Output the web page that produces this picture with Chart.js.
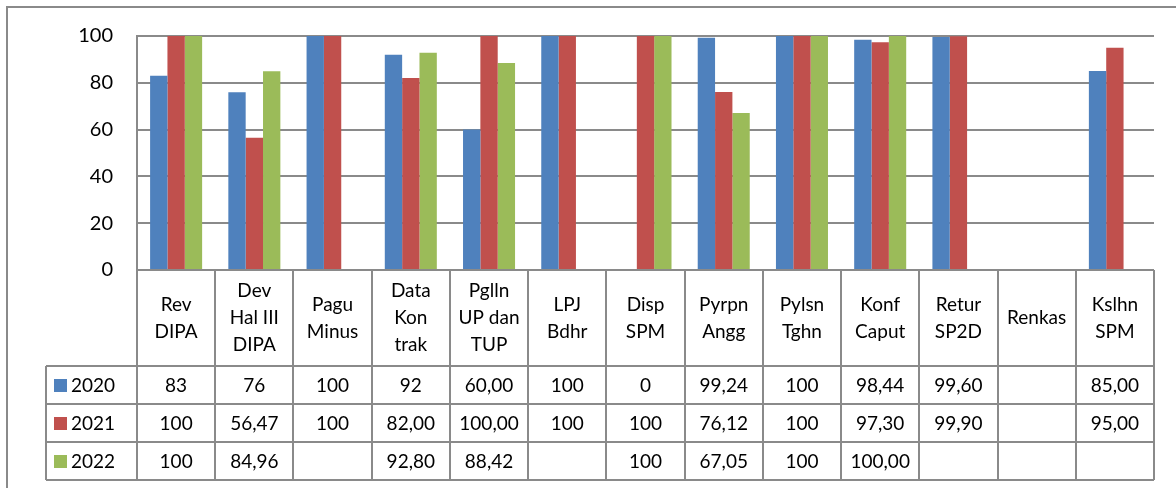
<!DOCTYPE html>
<html>
<head>
<meta charset="utf-8">
<script src="https://cdn.jsdelivr.net/npm/chart.js@4.4.1/dist/chart.umd.min.js"></script>
<style>
  html, body { margin: 0; padding: 0; background: #fff; }
  #wrap { width: 1176px; height: 488px; }
</style>
</head>
<body>
<div id="wrap"><canvas id="chart" width="1176" height="488"></canvas></div>
<script>
// categories (header lines as shown in the data table)
const categories = [
  ["Rev", "DIPA"], ["Dev", "Hal III", "DIPA"], ["Pagu", "Minus"], ["Data", "Kon", "trak"],
  ["Pglln", "UP dan", "TUP"], ["LPJ", "Bdhr"], ["Disp", "SPM"], ["Pyrpn", "Angg"],
  ["Pylsn", "Tghn"], ["Konf", "Caput"], ["Retur", "SP2D"], ["Renkas"], ["Kslhn", "SPM"]
];
const years = ["2020", "2021", "2022"];
const colors = ["#4F81BD", "#C0504D", "#9BBB59"];

const values2020 = [83, 76, 100, 92, 60, 100, 0, 99.24, 100, 98.44, 99.60, null, 85];
const values2021 = [100, 56.47, 100, 82, 100, 100, 100, 76.12, 100, 97.30, 99.90, null, 95];
const values2022 = [100, 84.96, null, 92.80, 88.42, null, 100, 67.05, 100, 100, null, null, null];

// text shown in the data table
const labels2020 = ["83", "76", "100", "92", "60,00", "100", "0", "99,24", "100", "98,44", "99,60", "", "85,00"];
const labels2021 = ["100", "56,47", "100", "82,00", "100,00", "100", "100", "76,12", "100", "97,30", "99,90", "", "95,00"];
const labels2022 = ["100", "84,96", "", "92,80", "88,42", "", "100", "67,05", "100", "100,00", "", "", ""];

const yMin = 0, yMax = 100, yStep = 20;

const FONT = "Lato, Carlito, Calibri, sans-serif";
const LINE = "#8a8a8a";

const tablePlugin = {
  id: 'dataTable',
  afterDraw(chart) {
    const ctx = chart.ctx;
    const area = chart.chartArea;
    const xs = chart.scales.x;
    const n = categories.length;
    const w = (area.right - area.left) / n;
    const headBottom = 366, rowH = 38, tableLeft = 46;
    const tableBottom = headBottom + rowH * 3;

    ctx.save();
    ctx.strokeStyle = LINE;
    ctx.lineWidth = 2;
    ctx.beginPath();
    // outer chart frame
    ctx.moveTo(7, 488); ctx.lineTo(7, 7); ctx.lineTo(1176, 7);
    // column separators
    for (let i = 0; i <= n; i++) {
      const x = Math.round(area.left + i * w);
      ctx.moveTo(x, area.bottom); ctx.lineTo(x, tableBottom);
    }
    // row lines
    for (let r = 0; r <= 3; r++) {
      const y = headBottom + r * rowH;
      ctx.moveTo(tableLeft, y); ctx.lineTo(area.right, y);
    }
    ctx.moveTo(tableLeft, headBottom); ctx.lineTo(tableLeft, tableBottom);
    ctx.stroke();

    ctx.fillStyle = "#000";
    ctx.font = "19px " + FONT;
    ctx.textAlign = "center";
    ctx.textBaseline = "middle";
    const headMid = (area.bottom + headBottom) / 2;
    categories.forEach((lines, i) => {
      const cx = xs.getPixelForValue(i);
      lines.forEach((t, j) => {
        ctx.fillText(t, cx, headMid + (j - (lines.length - 1) / 2) * 27);
      });
    });

    const rows = [labels2020, labels2021, labels2022];
    rows.forEach((row, r) => {
      const cy = headBottom + (r + 0.5) * rowH + 1;
      row.forEach((t, i) => {
        ctx.fillText(t, xs.getPixelForValue(i), cy);
      });
      ctx.fillStyle = colors[r];
      ctx.fillRect(54, cy - 7, 13, 13);
      ctx.fillStyle = "#000";
      ctx.textAlign = "left";
      ctx.fillText(years[r], 71, cy);
      ctx.textAlign = "center";
    });
    ctx.restore();
  }
};

new Chart(document.getElementById("chart"), {
  type: 'bar',
  data: {
    labels: categories.map(c => c.join(" ")),
    datasets: [
      { label: years[0], data: values2020, backgroundColor: colors[0] },
      { label: years[1], data: values2021, backgroundColor: colors[1] },
      { label: years[2], data: values2022, backgroundColor: colors[2] }
    ]
  },
  options: {
    responsive: false,
    animation: false,
    layout: { padding: { top: 36, right: 22, bottom: 218, left: 0 } },
    datasets: { bar: { barPercentage: 1, categoryPercentage: 0.665, borderWidth: 0 } },
    plugins: { legend: { display: false }, tooltip: { enabled: false } },
    scales: {
      x: { display: false, ticks: { autoSkip: false } },
      y: {
        min: yMin, max: yMax,
        afterFit(scale) { scale.width = 137; },
        ticks: { stepSize: yStep, padding: 24, color: "#000", font: { family: FONT, size: 20 } },
        grid: { color: LINE, lineWidth: 2, drawTicks: false },
        border: { display: true, color: LINE, width: 2 }
      }
    }
  },
  plugins: [tablePlugin]
});
</script>
</body>
</html>
